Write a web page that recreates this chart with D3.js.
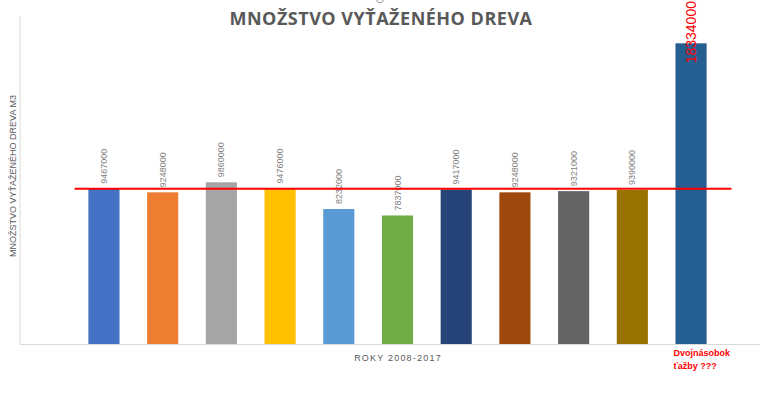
<!DOCTYPE html>
<html><head><meta charset="utf-8">
<script src="https://cdn.jsdelivr.net/npm/d3@7"></script>
<style>body{margin:0;background:#fff}svg{display:block}</style>
</head><body>
<svg id="c" width="760" height="397"></svg>
<script>
const categories = ["2008","2009","2010","2011","2012","2013","2014","2015","2016","2017","Dvojnásobok ťažby ???"];
const values = [9467000,9248000,9860000,9476000,8232000,7837000,9417000,9248000,9321000,9390000,18334000];
const colors = ["#4472C4","#ED7D31","#A5A5A5","#FFC000","#5B9BD5","#70AD47","#264478","#9E480E","#636363","#997300","#255E91"];
const referenceLine = [9467000];
const yDomain = [0, 20000000];
const title = "MNOŽSTVO VYŤAŽENÉHO DREVA";
const yTitle = "MNOŽSTVO VYŤAŽENÉHO DREVA M3";
const xTitle = "ROKY 2008-2017";
const lastLabelLines = ["Dvojnásobok", "ťažby ???"];

const svg = d3.select("#c");
const y = d3.scaleLinear().domain(yDomain).range([344, 16]);
const x = d3.scaleBand().domain(categories).range([74.6, 720.4]).paddingInner(0.47).paddingOuter(0.235);

// axes lines
svg.append("line").attr("x1",20).attr("x2",20).attr("y1",y(yDomain[1])).attr("y2",y(0)).attr("stroke","#d9d9d9").attr("stroke-width",1);
svg.append("line").attr("x1",20).attr("x2",760).attr("y1",y(0)+0.5).attr("y2",y(0)+0.5).attr("stroke","#d9d9d9").attr("stroke-width",1);

svg.selectAll("rect.bar").data(values).join("rect").attr("class","bar")
  .attr("x",(d,i)=>x(categories[i])).attr("width",x.bandwidth())
  .attr("y",d=>y(d)).attr("height",d=>y(0)-y(d))
  .attr("fill",(d,i)=>colors[i]);

// value labels
svg.selectAll("text.val").data(values).join("text").attr("class","val")
  .attr("transform",(d,i)=>{
    const cx = x(categories[i]) + x.bandwidth()/2;
    const last = i===values.length-1;
    const yy = last ? y(d)+20 : y(d)-5;
    return `translate(${cx + (last?5:3)},${yy}) rotate(-90)`;
  })
  .attr("font-family","'Liberation Sans', Arial, sans-serif")
  .attr("font-size",(d,i)=>i===values.length-1?14:9)
  .attr("fill",(d,i)=>i===values.length-1?"#ff0000":"#7f7f7f")
  .text(d=>d);

// reference red line
svg.selectAll("line.ref").data(referenceLine).join("line").attr("class","ref")
  .attr("x1",x.range()[0]).attr("x2",x.range()[1]+11)
  .attr("y1",d=>y(d)).attr("y2",d=>y(d))
  .attr("stroke","#ff0000").attr("stroke-width",2);

// title
svg.append("text").attr("x",380).attr("y",3).attr("text-anchor","middle")
  .attr("font-family","'Open Sans', sans-serif").attr("font-size",12).attr("fill","#a6a6a6").text("O");
svg.append("text").attr("x",381).attr("y",25).attr("text-anchor","middle")
  .attr("font-family","'Open Sans', sans-serif").attr("font-weight","bold").attr("font-size",18)
  .attr("letter-spacing",0.5).attr("fill","#595959").text(title);

// y title
svg.append("text").attr("transform","translate(16,176) rotate(-90)").attr("text-anchor","middle")
  .attr("font-family","'Liberation Sans', Arial, sans-serif").attr("font-size",9).attr("fill","#595959").text(yTitle);

// x title
svg.append("text").attr("x",398).attr("y",361).attr("text-anchor","middle")
  .attr("font-family","'Liberation Sans', Arial, sans-serif").attr("font-size",9).attr("letter-spacing",1.2)
  .attr("fill","#595959").text(xTitle);

// last category label
const lx = x(categories[categories.length-1]) - 2;
svg.selectAll("text.cat").data(lastLabelLines).join("text").attr("class","cat")
  .attr("x",lx).attr("y",(d,i)=>356+i*13)
  .attr("font-family","'Liberation Sans', Arial, sans-serif").attr("font-weight","bold").attr("font-size",9)
  .attr("fill","#ff0000").text(d=>d);
</script>
</body></html>
